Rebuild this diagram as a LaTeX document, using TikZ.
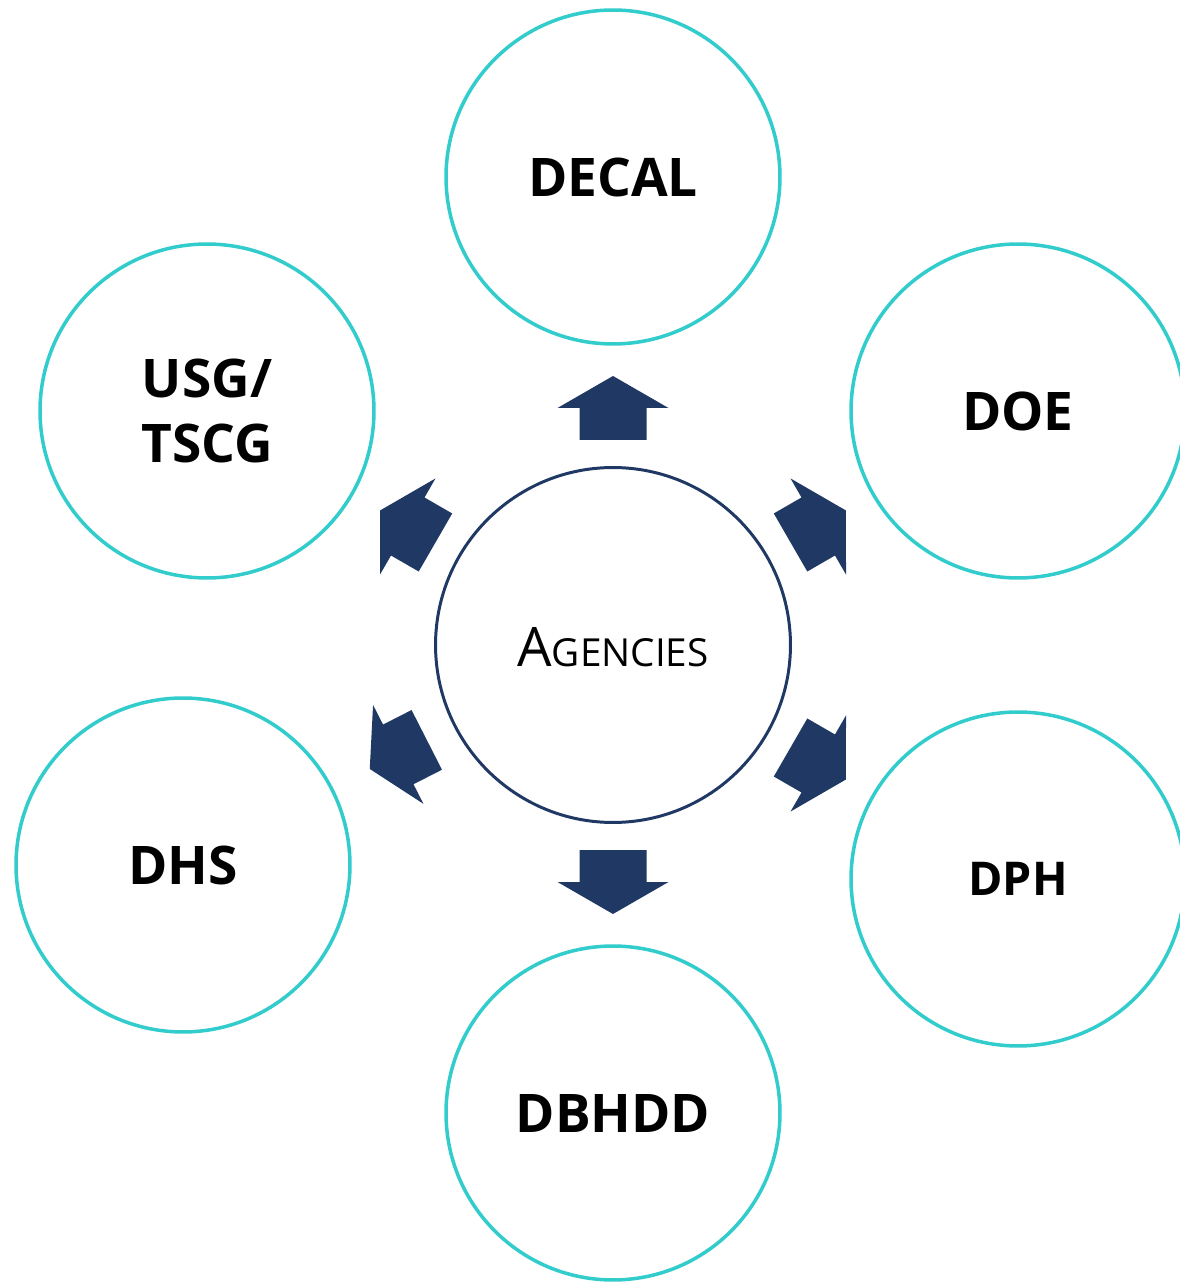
\documentclass[tikz,border=0pt]{standalone}
\usepackage{fontspec}
\setmainfont{Open Sans}
\usetikzlibrary{positioning}
\definecolor{ringteal}{RGB}{51,204,204}
\definecolor{agnavy}{RGB}{31,56,100}

\begin{document}
\begin{tikzpicture}[x=0.02cm,y=0.02cm,
    agency node/.style={circle,draw=ringteal,line width=2pt,minimum size=6.68cm,align=center,
      font=\fontsize{30.3}{37}\selectfont\bfseries},
    hub node/.style={circle,draw=agnavy,line width=1.7pt,minimum size=7.1cm}]
  \useasboundingbox (-613,-638) rectangle (566,645);
  % hub
  \node[hub node] (hub) at (0,0) {};
  \node (hublabel) at (0,-2) {{\fontsize{31}{32}\selectfont A}{\fontsize{22}{32}\selectfont GENCIES}};
  % agencies round the hub
  \node[agency node] (decal) at (0,468) {DECAL};
  \node[agency node] (doe) at (405,234) {DOE};
  \node[agency node,font=\fontsize{26.5}{32}\selectfont\bfseries] (dph) at (405,-234) {DPH};
  \node[agency node] (dbhdd) at (0,-468) {DBHDD};
  \node[agency node] (dhs) at (-430,-220) {DHS};
  \node[agency node] (usg) at (-406,234) {USG/\\TSCG};
  % block arrows
  \foreach \a/\d in {90/205,30/205,-30/205,-90/205,207/209,150/205}
    \fill[agnavy,rotate=\a] (\d,-33.5) -- (\d+32,-33.5) -- (\d+32,-55.5) -- (\d+64,0)
      -- (\d+32,55.5) -- (\d+32,33.5) -- (\d,33.5) -- cycle;
\end{tikzpicture}
\end{document}
